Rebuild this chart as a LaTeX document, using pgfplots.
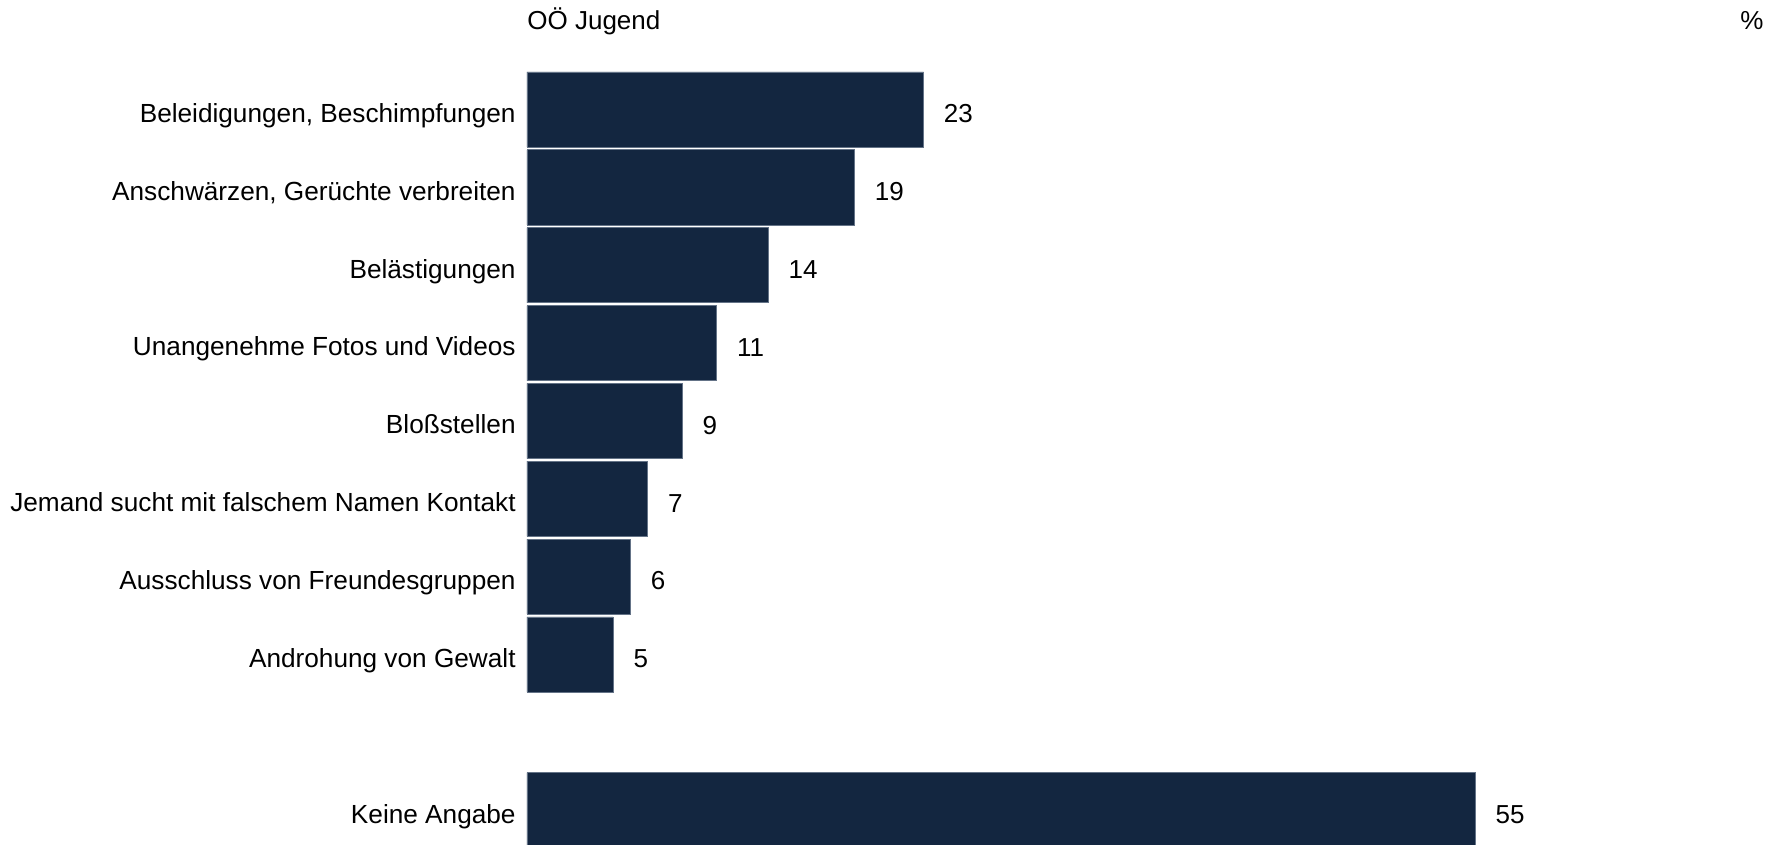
\documentclass[border=0pt]{standalone}
\usepackage{pgfplots}
\pgfplotsset{compat=1.18}
\usepackage{fontspec}
\setmainfont{Liberation Sans}
\definecolor{navy}{RGB}{19,38,64}
\definecolor{edge}{RGB}{100,115,135}
\begin{document}
\begin{tikzpicture}
\useasboundingbox (0,0) rectangle (888.5pt,422.5pt);
\node[anchor=base west, inner sep=0pt, font=\fontsize{13pt}{15pt}\selectfont] at (263.5pt,407.5pt) {OÖ Jugend};
\node[anchor=base west, inner sep=0pt, font=\fontsize{13pt}{15pt}\selectfont] at (870pt,407.5pt) {\%};
\begin{axis}[
  at={(263.5pt,0pt)}, anchor=south west,
  scale only axis, width=625pt, height=422.5pt,
  xmin=0, xmax=72.5, ymin=-0.406, ymax=10.446,
  y dir=reverse,
  xbar, bar width=0.965,
  axis line style={draw=none},
  major tick length=0pt,
  xtick=\empty,
  ytick={1,2,3,4,5,6,7,8,10},
  yticklabels={{Beleidigungen, Beschimpfungen}, {Anschwärzen, Gerüchte verbreiten}, Belästigungen, Unangenehme Fotos und Videos, Bloßstellen, Jemand sucht mit falschem Namen Kontakt, Ausschluss von Freundesgruppen, Androhung von Gewalt, Keine Angabe},
  yticklabel style={font=\fontsize{13.1pt}{15pt}\selectfont, anchor=base east, inner sep=0pt, xshift=-5.5pt, yshift=-6.4pt},
  /pgf/number format/assume math mode=true,
  nodes near coords,
  nodes near coords style={font=\fontsize{13pt}{15pt}\selectfont, anchor=base west, inner sep=0pt, xshift=10pt, yshift=-6.6pt, text=black},
]
\addplot[fill=navy, draw=edge, line width=0.35pt] coordinates {
  (23,1) (19,2) (14,3) (11,4) (9,5) (7,6) (6,7) (5,8) (55,10)
};
\end{axis}
\end{tikzpicture}
\end{document}
